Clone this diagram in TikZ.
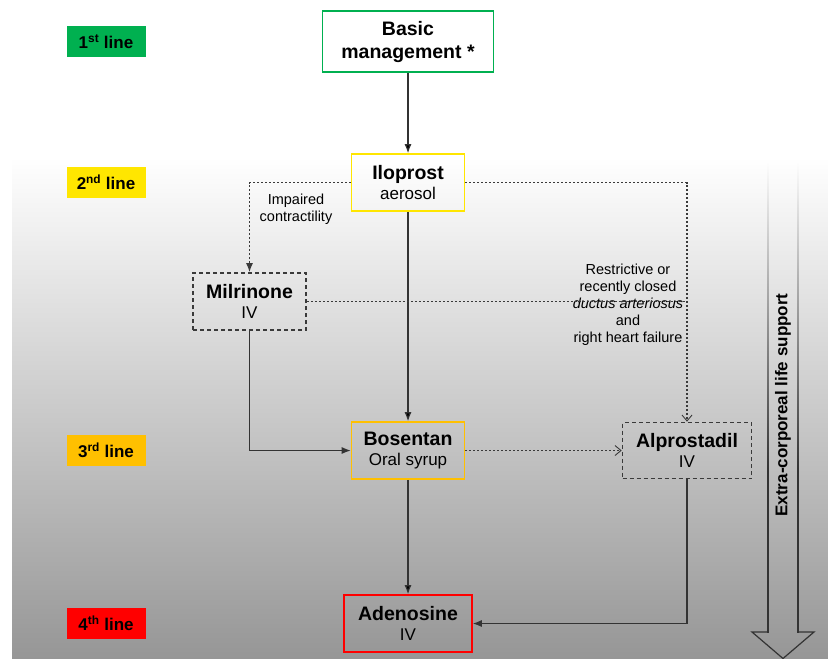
\documentclass[tikz,border=0pt]{standalone}
\usepackage{fontspec}
\setmainfont{Liberation Sans}
\usetikzlibrary{positioning,arrows.meta}

\definecolor{lgreen}{HTML}{00B050}
\definecolor{lyellow}{HTML}{FFE600}
\definecolor{lorange}{HTML}{FFC000}
\definecolor{lred}{HTML}{FF0000}
\definecolor{linegray}{HTML}{333333}
\definecolor{dotgray}{HTML}{3A3A3A}
\definecolor{bggray}{RGB}{150,150,150}

\newcommand{\drug}[2]{{\bfseries\fontsize{19.5}{21}\selectfont #1}\\#2}

\begin{document}
\begin{tikzpicture}[x=1pt,y=-1pt,on grid,
  drug node/.style={draw,line width=1.6pt,align=center,inner sep=0pt,minimum width=113pt,minimum height=57pt,font=\fontsize{17}{20}\selectfont},
  option node/.style={drug node,draw=dotgray,line width=1.6pt,dash pattern=on 4pt off 3pt},
  line label/.style={minimum width=79pt,minimum height=31pt,inner sep=0pt,font=\bfseries\fontsize{17}{20}\selectfont},
  note/.style={align=center,font=\fontsize{14.5}{17}\selectfont},
  solid arrow/.style={draw=linegray,line width=1.1pt,-{Latex[length=9pt,width=7pt]}},
  dot line/.style={draw=dotgray,line width=1.3pt,dash pattern=on 2pt off 2pt},
  open tip/.style={-{Straight Barb[length=6pt,width=10pt,line width=0.9pt]}}]

  \useasboundingbox (0,0) rectangle (828,659);
  \shade[top color=white,bottom color=bggray] (12,157) rectangle (828,659);

  \node[drug node,draw=lgreen,minimum width=171pt,minimum height=61pt,font=\bfseries\fontsize{19.5}{23}\selectfont] (basic) at (408,41.5) {Basic\\management *};
  \node[drug node,draw=lyellow] (ilo) [below=141pt of basic] {\drug{Iloprost}{aerosol}};
  \node[drug node,draw=lorange] (bos) [below=268pt of ilo] {\drug{Bosentan}{Oral syrup}};
  \node[drug node,draw=lred,minimum width=128pt] (ade) [below=173pt of bos] {\drug{Adenosine}{IV}};
  \node[option node] (mil) [below left=119pt and 158.5pt of ilo] {\drug{Milrinone}{IV}};
  \node[option node,minimum width=129pt,minimum height=56pt] (alp) [right=279pt of bos] {\drug{Alprostadil}{IV}};

  \node[line label,fill=lgreen] (first) [left=302pt of basic] {1\textsuperscript{st} line};
  \node[line label,fill=lyellow] (second) [left=302pt of ilo] {2\textsuperscript{nd} line};
  \node[line label,fill=lorange] (third) [left=302pt of bos] {3\textsuperscript{rd} line};
  \node[line label,fill=lred] (fourth) [left=302pt of ade] {4\textsuperscript{th} line};

  \node[note] (impaired) at (296,209.5) {Impaired\\contractility};
  \node[note] (restrictive) at (628,305) {Restrictive or\\recently closed\\\textit{ductus arteriosus}\\and\\right heart failure};

  \path[solid arrow]
    (basic) edge (ilo)
    (ilo) edge (bos)
    (bos) edge (ade);
  \draw[solid arrow] (mil.south) |- (bos.west);
  \draw[solid arrow] (alp.south) |- (ade.east);

  \draw[dot line,-{Latex[length=9pt,width=7pt]}] (ilo.west) -| (mil.north);
  \draw[dot line,open tip] (ilo.east) -| (alp.north);
  \coordinate (join) at (mil.east -| alp.north);
  \draw[dot line] (mil.east) -- (join);
  \draw[dot line,open tip] (bos.east) -- (alp.west);

  % extra-corporeal life support arrow
  \foreach \xx in {768,798} {
    \shade[top color=white,bottom color=linegray] (\xx-0.6,160) rectangle (\xx+0.6,470);
    \fill[linegray] (\xx-0.6,470) rectangle (\xx+0.6,632.5);
  }
  \draw[linegray,line width=1.2pt,line join=miter] (768,632) -- (752,632) -- (783,658.5) -- (814,632) -- (798,632);
  \node[rotate=90,font=\bfseries\fontsize{17}{20}\selectfont] (ecls) at (783,405) {Extra-corporeal life support};
\end{tikzpicture}
\end{document}
